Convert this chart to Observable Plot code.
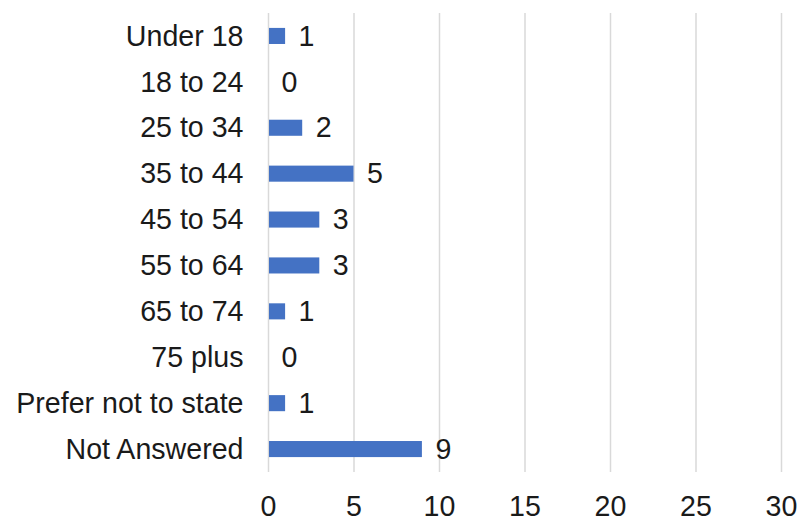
<!DOCTYPE html>
<html>
<head>
<meta charset="utf-8">
<script src="https://cdn.jsdelivr.net/npm/d3@7"></script>
<script src="https://cdn.jsdelivr.net/npm/@observablehq/plot@0.6"></script>
<style>
  html, body { margin: 0; padding: 0; background: #fff; }
  #chart { width: 800px; height: 517px; }
</style>
</head>
<body>
<div id="chart"></div>
<script>
const categories = ["Under 18", "18 to 24", "25 to 34", "35 to 44", "45 to 54", "55 to 64", "65 to 74", "75 plus", "Prefer not to state", "Not Answered"];
const counts = [1, 0, 2, 5, 3, 3, 1, 0, 1, 9];
const xTicks = [0, 5, 10, 15, 20, 25, 30];

const data = categories.map((c, i) => ({category: c, count: counts[i]}));

const chart = Plot.plot({
  width: 800,
  height: 517,
  marginLeft: 268,
  marginRight: 19,
  marginTop: 13,
  marginBottom: 45,
  style: {fontFamily: "'Liberation Sans', Arial, sans-serif", fontSize: "28.6px", color: "#1a1a1a", background: "#fff"},
  x: {domain: [0, 30], ticks: xTicks, label: null},
  y: {domain: categories, paddingInner: 0.65, paddingOuter: 0.325, round: false, label: null},
  marks: [
    Plot.ruleX(xTicks, {stroke: "#d9d9d9", strokeWidth: 1.5}),
    Plot.barX(data, {y: "category", x: "count", fill: "#4472C4", insetLeft: 1}),
    Plot.text(data, {y: "category", x: "count", text: d => String(d.count), textAnchor: "start", dx: 13, fill: "#1a1a1a", fontSize: 28.6}),
    Plot.axisX({ticks: xTicks, tickSize: 0, tickPadding: 23, label: null, fontSize: 28.6}),
    Plot.axisY({tickSize: 0, tickPadding: 25, label: null, fontSize: 28.6})
  ]
});
document.getElementById("chart").appendChild(chart);
</script>
</body>
</html>
